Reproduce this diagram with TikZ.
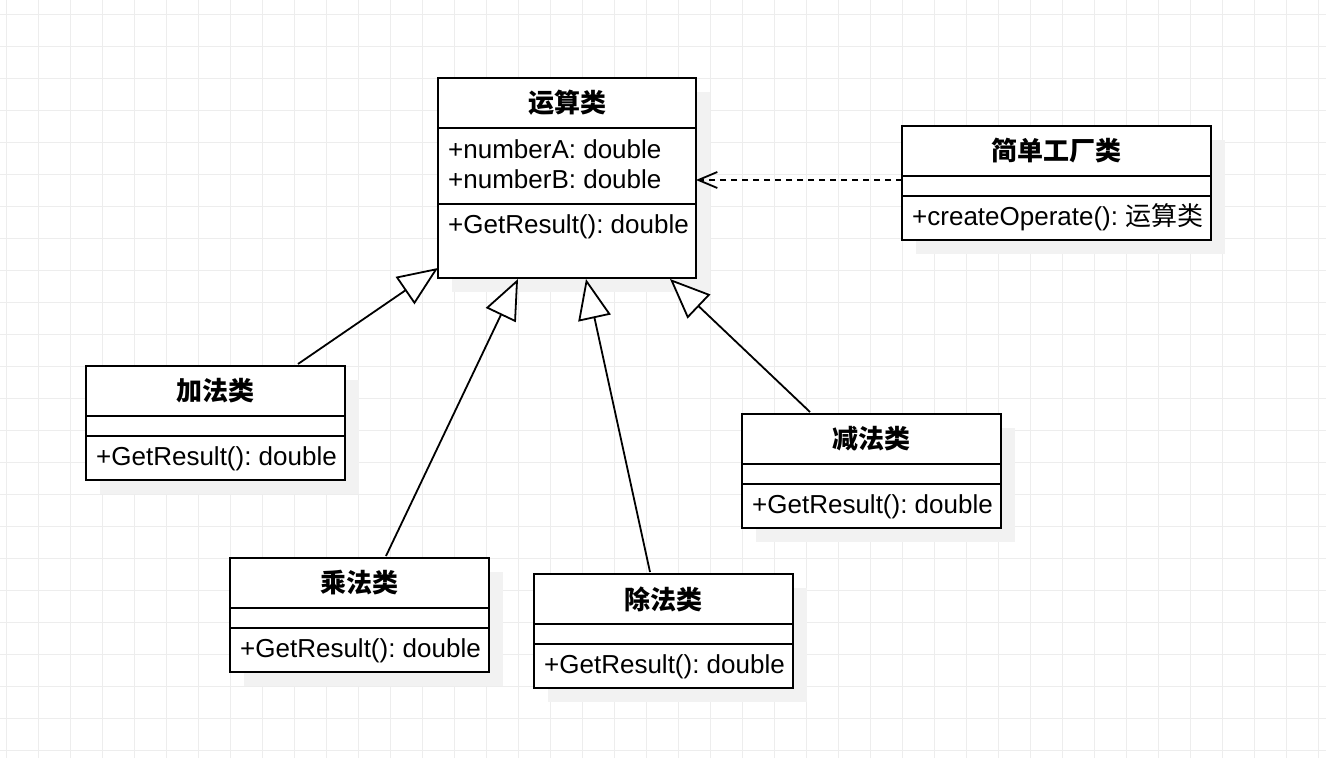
\documentclass[tikz,border=0pt]{standalone}
\usepackage{fontspec}
\setmainfont{Liberation Sans}
\newfontfamily\cjk{Noto Sans CJK SC}
\usetikzlibrary{arrows.meta}
\definecolor{gridc}{HTML}{EDEDED}
\definecolor{shadowc}{HTML}{F2F2F2}
\tikzset{
  boxline/.style={line width=1.8pt, draw=black},
  boxst/.style={rectangle, draw=black, line width=1.8pt, fill=white, inner sep=0pt, outer sep=0pt},
  titlest/.style={anchor=center, inner sep=0pt, font=\fontsize{26}{30}\selectfont\cjk\bfseries},
  memberst/.style={anchor=base west, inner sep=0pt, font=\fontsize{26}{30}\selectfont\frenchspacing},
  inh/.style={line width=1.8pt, -{Triangle[length=40pt,width=33pt,fill=white]}},
  dep/.style={line width=1.8pt, dash pattern=on 6pt off 5pt, -{Straight Barb[length=19pt,width=16pt]}},
}
% name, x, y, w, h, div1, div2
\newcommand{\umlbox}[7]{%
  \fill[shadowc] (#2+14,#3+14) rectangle ++(#4,#5);
  \node[boxst, minimum width=#4pt, minimum height=#5pt, anchor=north west] (#1) at (#2,#3) {};
  \draw[boxline] ([yshift=-#6pt]#1.north west) -- ([yshift=-#6pt]#1.north east);
  \draw[boxline] ([yshift=-#7pt]#1.north west) -- ([yshift=-#7pt]#1.north east);
}
\begin{document}
\frenchspacing
\begin{tikzpicture}[x=1pt,y=-1pt]
\useasboundingbox (0,0) rectangle (1326,758);
\fill[white] (0,0) rectangle (1326,758);
\foreach \x in {6,38,...,1326} \draw[gridc, line width=1pt] (\x,0) -- (\x,758);
\foreach \y in {14,46,...,758} \draw[gridc, line width=1pt] (0,\y) -- (1326,\y);

% classes
\umlbox{op}{438}{78}{258}{200}{50}{126}
\node[titlest] (opT) at ([yshift=-25pt]op.north) {运算类};
\node[memberst] (opA) at (448,158) {+numberA: double};
\node[memberst] (opB) at (448,188) {+numberB: double};
\node[memberst] (opM) at (448,233) {+GetResult(): double};

\umlbox{fac}{902}{126}{309}{114}{50}{70}
\node[titlest] (facT) at ([yshift=-25pt]fac.north) {简单工厂类};
\node[memberst] (facM) at (912,225) {+createOperate(): {\cjk 运算类}};

\umlbox{add}{86}{366}{259}{114}{50}{70}
\node[titlest] (addT) at ([yshift=-25pt]add.north) {加法类};
\node[memberst] (addM) at (96,465) {+GetResult(): double};

\umlbox{mul}{230}{558}{259}{114}{50}{70}
\node[titlest] (mulT) at ([yshift=-25pt]mul.north) {乘法类};
\node[memberst] (mulM) at (240,657) {+GetResult(): double};

\umlbox{div}{534}{574}{259}{114}{50}{70}
\node[titlest] (divT) at ([yshift=-25pt]div.north) {除法类};
\node[memberst] (divM) at (544,673) {+GetResult(): double};

\umlbox{sub}{742}{414}{259}{114}{50}{70}
\node[titlest] (subT) at ([yshift=-25pt]sub.north) {减法类};
\node[memberst] (subM) at (752,513) {+GetResult(): double};

% connectors
\draw[inh] ([xshift=212pt,yshift=2pt]add.north west) -- ([yshift=-190pt]op.north west);
\draw[inh] ([xshift=156pt,yshift=2pt]mul.north west) -- ([xshift=80pt,yshift=-1pt]op.south west);
\draw[inh] ([xshift=116pt,yshift=2pt]div.north west) -- ([xshift=148pt,yshift=-1pt]op.south west);
\draw[inh] ([xshift=68pt,yshift=2pt]sub.north west) -- ([xshift=232pt,yshift=-1pt]op.south west);
\draw[dep] ([yshift=-54pt]fac.north west) -- ([yshift=-102pt]op.north east);
\end{tikzpicture}
\end{document}
